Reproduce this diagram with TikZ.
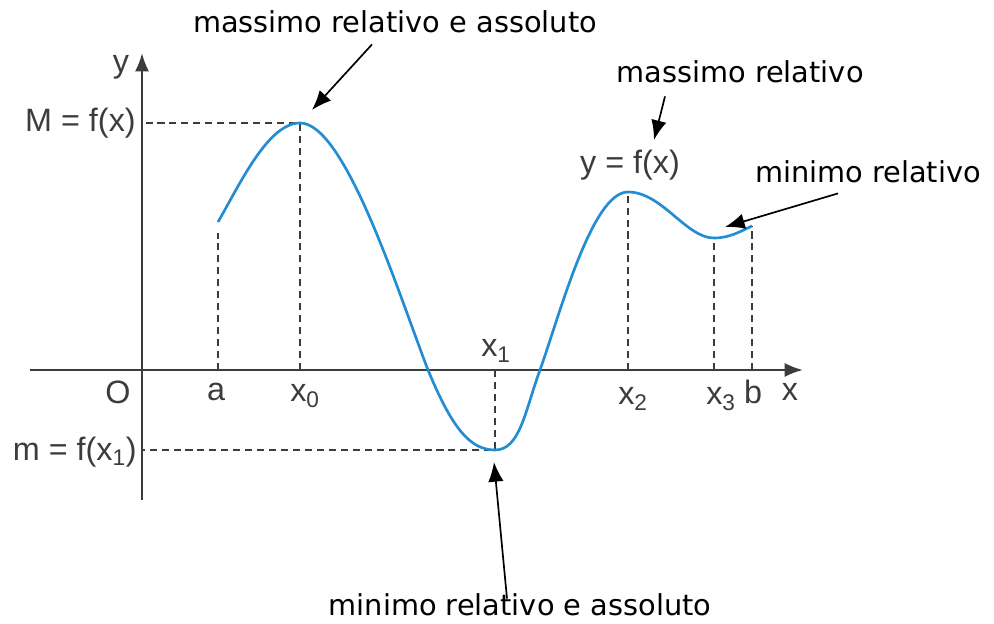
\documentclass[tikz,border=0pt]{standalone}
\usepackage{fontspec}
\setmainfont{Liberation Sans}
\newfontfamily\notefont{DejaVu Sans}
\usetikzlibrary{arrows.meta}
\definecolor{curveblue}{RGB}{35,140,210}
\definecolor{axisgray}{RGB}{60,60,60}
\tikzset{
  axis/.style={draw=axisgray, line width=1.6pt, -{Latex[length=13pt,width=10pt]}},
  guide/.style={draw=axisgray, line width=1.1pt, dash pattern=on 5pt off 3.5pt},
  curve/.style={draw=curveblue, line width=1.9pt},
  lab/.style={font=\fontsize{23}{25}\selectfont, text=axisgray, inner sep=0pt},
  note/.style={font=\notefont\fontsize{20.5}{22}\selectfont, inner sep=0pt},
  pointer/.style={line width=1.2pt, -{Latex[length=14pt,width=11pt]}}
}
\begin{document}
\begin{tikzpicture}[x=0.025cm,y=0.025cm]
\useasboundingbox (0,0) rectangle (994,624);
% points of the graph
\coordinate (O) at (142,254);
\coordinate (A) at (218,402);
\coordinate (P0) at (300,501);
\coordinate (P1) at (495,174);
\coordinate (P2) at (628,432);
\coordinate (P3) at (714,386);
\coordinate (B) at (752,398);
\coordinate (Z1) at (428,254);
\coordinate (Z2) at (540,254);
% axes
\coordinate (xl) at (30,254);
\coordinate (xr) at (803,254);
\coordinate (yd) at (142,124);
\coordinate (yu) at (142,571);
\draw[axis] (xl) -- (xr);
\draw[axis] (yd) -- (yu);
% dashed guides
\draw[guide] (A |- O) -- ([yshift=-8]A);
\draw[guide] (P0 |- O) -- (P0) -- (O |- P0);
\draw[guide] (P1 |- O) -- (P1) -- (O |- P1);
\draw[guide] (P2 |- O) -- (P2);
\draw[guide] (P3 |- O) -- (P3);
\draw[guide] (B |- O) -- (B);
% the function
\draw[curve] (A) .. controls (240,440) and (268,501) .. (P0)
  .. controls (345,501) and (398,332) .. (Z1)
  .. controls (452,196) and (470,174) .. (P1)
  .. controls (520,174) and (525,213) .. (Z2)
  .. controls (560,310) and (592,432) .. (P2)
  .. controls (662,432) and (686,386) .. (P3)
  .. controls (730,386) and (741,393) .. (B);
% labels
\node[lab] (ylab) at (121,557) {y};
\node[lab] (xlab) at (790,232) {x};
\node[lab] (Olab) at (118,232) {O};
\node[lab] (alab) at (216,232) {a};
\node[lab] (x0lab) at (305,228) {x\textsubscript{0}};
\node[lab] (x1lab) at (496,273) {x\textsubscript{1}};
\node[lab] (x2lab) at (633,225) {x\textsubscript{2}};
\node[lab] (x3lab) at (721,225) {x\textsubscript{3}};
\node[lab] (blab) at (753,232) {b};
\node[lab, anchor=east] (Mlab) at (136,501) {M = f(x)};
\node[lab, anchor=east] (mlab) at (137,172) {m = f(x\textsubscript{1})};
\node[lab] (flab) at (630,459) {y = f(x)};
% notes
\node[note] (nmaxa) at (395,602) {massimo relativo e assoluto};
\node[note] (nmax) at (740,552) {massimo relativo};
\node[note] (nmin) at (868,452) {minimo relativo};
\node[note] (nmina) at (520,19) {minimo relativo e assoluto};
\coordinate (t1) at (312,514);
\coordinate (t2) at (654,484);
\coordinate (t3) at (725,397);
\coordinate (t4) at (494,162);
\draw[pointer] (nmaxa.south) ++(-23,-11) -- (t1);
\draw[pointer] (nmax.south) ++(-75,-13) -- (t2);
\draw[pointer] (nmin.south) ++(-30,-10) -- (t3);
\draw[pointer] (nmina.north) ++(-13,-5) -- (t4);
\end{tikzpicture}
\end{document}
